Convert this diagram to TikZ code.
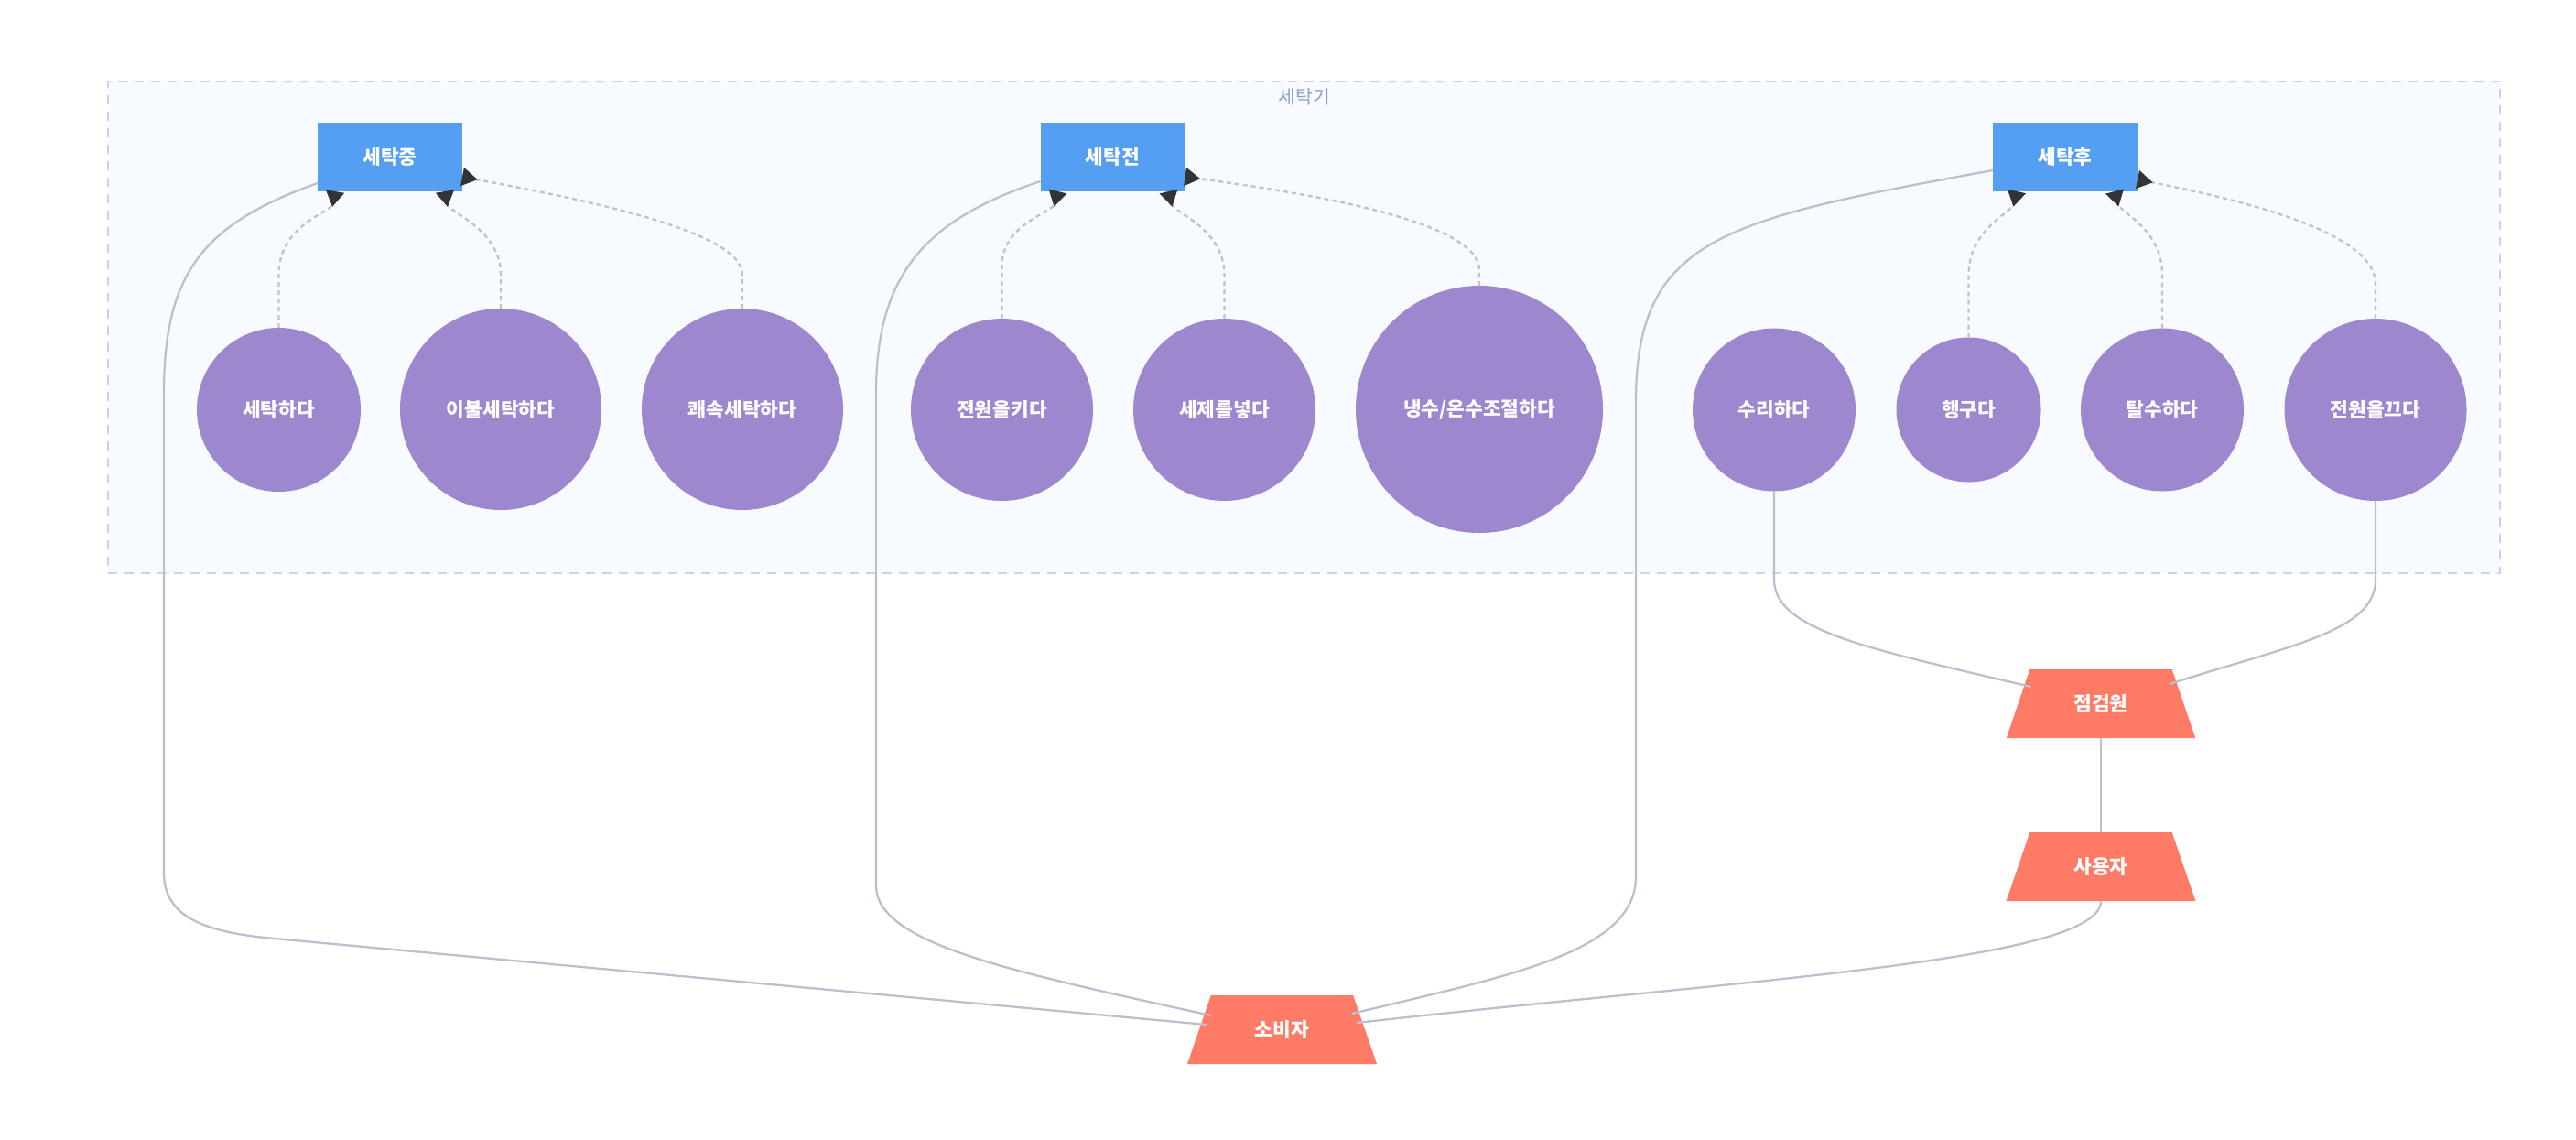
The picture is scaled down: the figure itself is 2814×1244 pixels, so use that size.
\documentclass[tikz,border=0pt]{standalone}
\usepackage{fontspec}
\setmainfont{Noto Sans CJK KR}
\usetikzlibrary{shapes.geometric,arrows.meta,calc}
\definecolor{boxblue}{HTML}{549FF2}
\definecolor{casepurple}{HTML}{9D87CF}
\definecolor{actorred}{HTML}{FF7B66}
\definecolor{clusterfill}{HTML}{F7FBFF}
\definecolor{clusterborder}{HTML}{C7D3F2}
\definecolor{labelblue}{HTML}{8DA2C8}
\definecolor{linegray}{HTML}{BCC0CE}
\definecolor{dashgray}{HTML}{BFC2CA}
\definecolor{arrowdark}{HTML}{333333}
\begin{document}
\begin{tikzpicture}[x=0.5pt,y=-0.5pt,
  every node/.style={font=\bfseries\fontsize{10.7pt}{12pt}\selectfont, text=white, inner sep=0pt, outer sep=0pt},
  statebox/.style={rectangle, fill=boxblue, minimum width=79pt, minimum height=37.5pt},
  usecase/.style={circle, fill=casepurple},
  actor/.style={trapezium, trapezium angle=64, trapezium stretches=true, fill=actorred, minimum width=103.5pt, minimum height=37.5pt},
  link/.style={draw=linegray, line width=1.15pt},
  dep/.style={draw=dashgray, line width=1.15pt, dash pattern=on 2.5pt off 2pt, -{Triangle[reversed, length=8.5pt, width=10pt, color=arrowdark]}},
  clusterbox/.style={draw=clusterborder, fill=clusterfill, line width=1pt, dash pattern=on 5pt off 4pt, minimum width=1306.5pt, minimum height=268.5pt}
]
\useasboundingbox (0,0) rectangle (2814,1244);
\fill[white] (0,0) rectangle (2814,1244);

% cluster
\node[clusterbox] (washer) at (1424.5,357.5) {};
\node[text=labelblue, font=\fontsize{10.2pt}{12pt}\selectfont] (washerlabel) at (1425,106) {세탁기};

% state boxes
\node[statebox] (zhong) at (426,171.5) {세탁중};
\node[statebox] (jeon) at (1215.5,171.5) {세탁전};
\node[statebox] (hu) at (2256,171.5) {세탁후};

% use cases
\node[usecase, minimum size=89.5pt] (wash) at (304.5,447.5) {세탁하다};
\node[usecase, minimum size=110pt] (blanket) at (547,447) {이불세탁하다};
\node[usecase, minimum size=110pt] (quick) at (811,447) {쾌속세탁하다};
\node[usecase, minimum size=99.5pt] (poweron) at (1094.5,447.5) {전원을키다};
\node[usecase, minimum size=99.5pt] (detergent) at (1337.5,447.5) {세제를넣다};
\node[usecase, minimum size=135pt] (temp) at (1616,447) {냉수/온수조절하다};
\node[usecase, minimum size=89pt] (repair) at (1938,447.5) {수리하다};
\node[usecase, minimum size=79pt] (rinse) at (2150.5,447.5) {행구다};
\node[usecase, minimum size=89pt] (spin) at (2362,447.5) {탈수하다};
\node[usecase, minimum size=99.5pt] (poweroff) at (2595,447.5) {전원을끄다};

% actors
\node[actor] (inspector) at (2295,768.5) {점검원};
\node[actor] (user) at (2295,946.5) {사용자};
\node[actor] (consumer) at (1400.5,1124.5) {소비자};

% solid associations
\draw[link] ($(zhong.south west)+(0,-9)$) .. controls (220,245) and (179,300) .. (179,430) -- (179,953) .. controls (179,1000) and (220,1018) .. (300,1025) -- ($(consumer.center)+(-82.5,-5.5)$);
\draw[link] ($(jeon.south west)+(0,-11)$) .. controls (1010,240) and (957,300) .. (957,430) -- (957,967) .. controls (957,1030) and (1100,1060) .. ($(consumer.center)+(-77.5,-15.5)$);
\draw[link] ($(hu.south west)+(0,-23)$) .. controls (1880,240) and (1787,260) .. (1787,440) -- (1787,957) .. controls (1787,1040) and (1650,1065) .. ($(consumer.center)+(76.5,-17.5)$);
\draw[link] (user.south) .. controls (2295,1050) and (1900,1070) .. ($(consumer.center)+(81.5,-7.5)$);
\draw[link] (inspector.south) -- (user.north);
\draw[link] (repair.south) -- (1938,633) .. controls (1938,690) and (2050,710) .. ($(inspector.center)+(-76.5,-18.5)$);
\draw[link] (poweroff.south) -- (2595,633) .. controls (2595,690) and (2500,705) .. ($(inspector.center)+(75,-21.5)$);

% dashed dependencies
\draw[dep] (wash.north) -- (304.5,300) .. controls (304.5,245) and (362,232) .. ($(zhong.south west)+(19,0)$);
\draw[dep] (blanket.north) -- (547,300) .. controls (547,250) and (490,232) .. ($(zhong.south east)+(-19,0)$);
\draw[dep] (quick.north) -- (811,300) .. controls (811,250) and (620,215) .. ($(zhong.south east)+(0,-16)$);
\draw[dep] (poweron.north) -- (1094.5,290) .. controls (1094.5,245) and (1150,232) .. ($(jeon.south west)+(19,0)$);
\draw[dep] (detergent.north) -- (1337.5,300) .. controls (1337.5,250) and (1282,232) .. ($(jeon.south east)+(-18,0)$);
\draw[dep] (temp.north) -- (1616,295) .. controls (1616,240) and (1420,210) .. ($(jeon.south east)+(0,-16)$);
\draw[dep] (rinse.north) -- (2150.5,300) .. controls (2150.5,250) and (2198,232) .. ($(hu.south west)+(26,0)$);
\draw[dep] (spin.north) -- (2362,300) .. controls (2362,250) and (2316,232) .. ($(hu.south east)+(-25,0)$);
\draw[dep] (poweroff.north) -- (2595,310) .. controls (2595,250) and (2430,215) .. ($(hu.south east)+(0,-13)$);
\end{tikzpicture}
\end{document}
